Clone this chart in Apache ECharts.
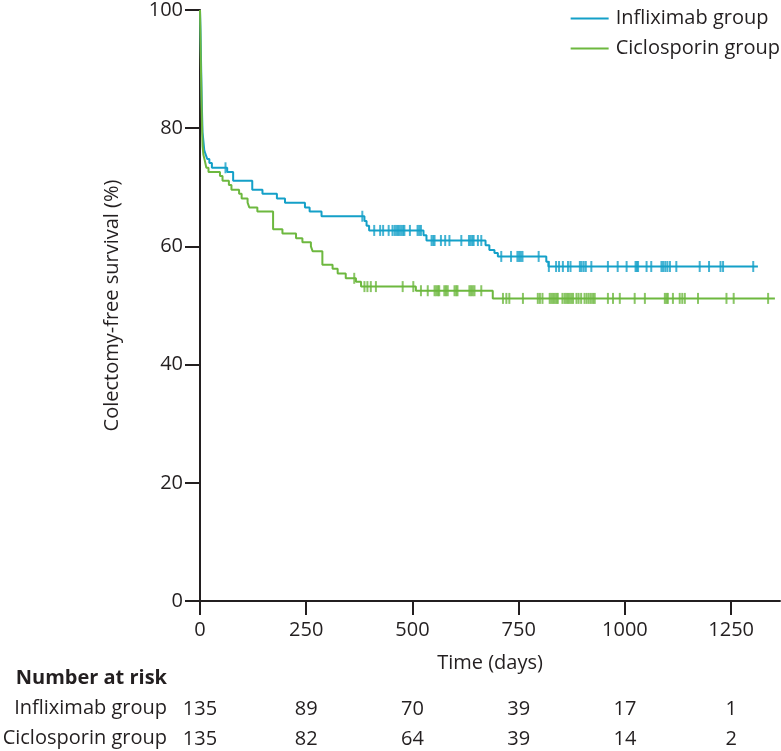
<!DOCTYPE html>
<html><head><meta charset="utf-8">
<script src="https://cdn.jsdelivr.net/npm/echarts@6/dist/echarts.min.js"></script>
<style>html,body{margin:0;padding:0;background:#fff}#c{width:781px;height:751px}</style>
</head><body><div id="c"></div>
<script>
// ---- data ----
const xTickValues = [0, 250, 500, 750, 1000, 1250];
const infliximabRisk = [135, 89, 70, 39, 17, 1];
const ciclosporinRisk = [135, 82, 64, 39, 14, 2];

const infliximabTime = [0, 1, 2, 3, 4, 5, 6, 8, 10, 13, 17, 22, 28, 64, 78, 123, 147, 181, 200, 247, 258, 286, 387, 392, 398, 526, 533, 672, 681, 693, 701, 815, 820, 1313];
const infliximabSurv = [100, 97, 93, 89, 85, 82, 79.3, 77.8, 76.3, 75.6, 74.8, 74.1, 73.3, 72.6, 71.1, 69.6, 68.9, 68.1, 67.4, 66.6, 65.9, 65.1, 64.3, 63.5, 62.7, 61.9, 61.0, 60.2, 59.4, 58.9, 58.3, 57.4, 56.6, 56.6];
const infliximabCensor = [60, 382, 410, 424, 431, 444, 453, 458, 462, 466, 470, 474, 478, 481, 494, 512, 516, 520, 545, 549, 552, 567, 577, 587, 615, 633, 637, 641, 644, 654, 662, 709, 732, 747, 751, 755, 759, 797, 821, 838, 845, 854, 866, 872, 894, 898, 903, 908, 921, 960, 983, 1004, 1025, 1028, 1031, 1051, 1062, 1086, 1090, 1095, 1100, 1106, 1121, 1176, 1198, 1225, 1231, 1302];

const ciclosporinTime = [0, 1, 2, 3, 4, 5, 6, 8, 11, 15, 20, 47, 53, 68, 74, 92, 98, 112, 116, 135, 172, 194, 226, 241, 261, 265, 288, 312, 324, 343, 367, 379, 508, 689, 1353];
const ciclosporinSurv = [100, 96, 91, 87, 83, 79.5, 77, 75.5, 74.6, 73.3, 72.6, 71.9, 71.1, 70.4, 69.6, 68.9, 68.1, 67.4, 66.6, 65.9, 62.9, 62.2, 61.4, 60.7, 60.0, 59.2, 56.9, 56.2, 55.4, 54.6, 54.0, 53.2, 52.5, 51.2, 51.2];
const ciclosporinCensor = [363, 387, 394, 402, 414, 477, 502, 520, 536, 552, 556, 560, 563, 575, 579, 583, 599, 603, 606, 634, 638, 642, 646, 662, 713, 721, 728, 760, 795, 800, 806, 823, 827, 831, 835, 839, 842, 853, 858, 862, 866, 870, 874, 878, 886, 891, 897, 905, 910, 915, 920, 925, 929, 960, 972, 988, 1023, 1047, 1094, 1098, 1101, 1113, 1129, 1135, 1141, 1172, 1239, 1256, 1337];

// ---- helpers ----
function levelAt(times, surv, t) {
  let v = surv[0];
  for (let i = 0; i < times.length; i++) { if (times[i] <= t) v = surv[i]; else break; }
  return v;
}
const pairs = (times, surv) => times.map((t, i) => [t, surv[i]]);
const censorPts = (c, times, surv) => c.map(t => [t, levelAt(times, surv, t)]);

const BLUE = '#14a0c8';
const GREEN = '#6db83f';
const INK = '#231f20';
const FONT = 'Open Sans';
const FS = 20;

const chart = echarts.init(document.getElementById('c'), null, { renderer: 'canvas' });

const riskAxis = (arr, offset) => ({
  type: 'value', min: 0, max: 1365, position: 'bottom', offset: offset,
  axisLine: { show: false }, axisTick: { show: false }, splitLine: { show: false },
  axisLabel: {
    customValues: xTickValues, margin: 0, fontSize: FS, fontFamily: FONT, color: INK,
    formatter: v => { const i = xTickValues.indexOf(v); return i >= 0 ? String(arr[i]) : ''; }
  }
});

chart.setOption({
  animation: false,
  backgroundColor: '#fff',
  textStyle: { fontFamily: FONT, color: INK },
  grid: { left: 200, right: 1, top: 8, bottom: 150, containLabel: false },
  legend: {
    orient: 'vertical', right: 0, top: 3, padding: [5, 1, 5, 5], itemGap: 9, itemWidth: 38, itemHeight: 2,
    icon: 'rect', data: ['Infliximab group', 'Ciclosporin group'],
    textStyle: { fontSize: FS, fontFamily: FONT, color: INK, padding: [0, 0, 0, 2], lineHeight: 21 }
  },
  xAxis: [
    {
      type: 'value', min: 0, max: 1365, interval: 250,
      name: 'Time (days)', nameLocation: 'middle', nameGap: 52,
      nameTextStyle: { fontSize: FS, fontFamily: FONT, color: INK },
      axisLine: { show: true, onZero: false, lineStyle: { color: INK, width: 2 } },
      axisTick: { show: true, length: 14, customValues: xTickValues, lineStyle: { color: INK, width: 2 } },
      axisLabel: { customValues: xTickValues, margin: 19, fontSize: FS, fontFamily: FONT, color: INK,
                   formatter: v => String(v) },
      splitLine: { show: false }
    },
    riskAxis(infliximabRisk, 98),
    riskAxis(ciclosporinRisk, 128)
  ],
  yAxis: {
    type: 'value', min: 0, max: 100, interval: 20,
    name: 'Colectomy-free survival (%)', nameLocation: 'middle', nameGap: 78, nameRotate: 90,
    nameTextStyle: { fontSize: FS, fontFamily: FONT, color: INK },
    axisLine: { show: true, lineStyle: { color: INK, width: 2 } },
    axisTick: { show: true, length: 15, lineStyle: { color: INK, width: 2 } },
    axisLabel: { margin: 17, fontSize: FS, fontFamily: FONT, color: INK, formatter: v => String(v) },
    splitLine: { show: false }
  },
  series: [
    {
      name: 'Infliximab group', type: 'line', step: 'end', showSymbol: false, symbol: 'none',
      color: BLUE, lineStyle: { color: BLUE, width: 2 }, data: pairs(infliximabTime, infliximabSurv), z: 3
    },
    {
      name: 'Ciclosporin group', type: 'line', step: 'end', showSymbol: false, symbol: 'none',
      color: GREEN, lineStyle: { color: GREEN, width: 2 }, data: pairs(ciclosporinTime, ciclosporinSurv), z: 4
    },
    {
      name: 'Infliximab censored', type: 'scatter', symbol: 'rect', symbolSize: [2, 11],
      itemStyle: { color: BLUE }, data: censorPts(infliximabCensor, infliximabTime, infliximabSurv), z: 5
    },
    {
      name: 'Ciclosporin censored', type: 'scatter', symbol: 'rect', symbolSize: [2, 11],
      itemStyle: { color: GREEN }, data: censorPts(ciclosporinCensor, ciclosporinTime, ciclosporinSurv), z: 5
    }
  ],
  graphic: [
    { type: 'text', right: 614, top: 668, style: { text: 'Number at risk', font: 'bold 20px "Open Sans"', fill: INK } },
    { type: 'text', right: 614, top: 698, style: { text: 'Infliximab group', font: '20px "Open Sans"', fill: INK } },
    { type: 'text', right: 614, top: 728, style: { text: 'Ciclosporin group', font: '20px "Open Sans"', fill: INK } }
  ]
});
</script>
</body></html>
